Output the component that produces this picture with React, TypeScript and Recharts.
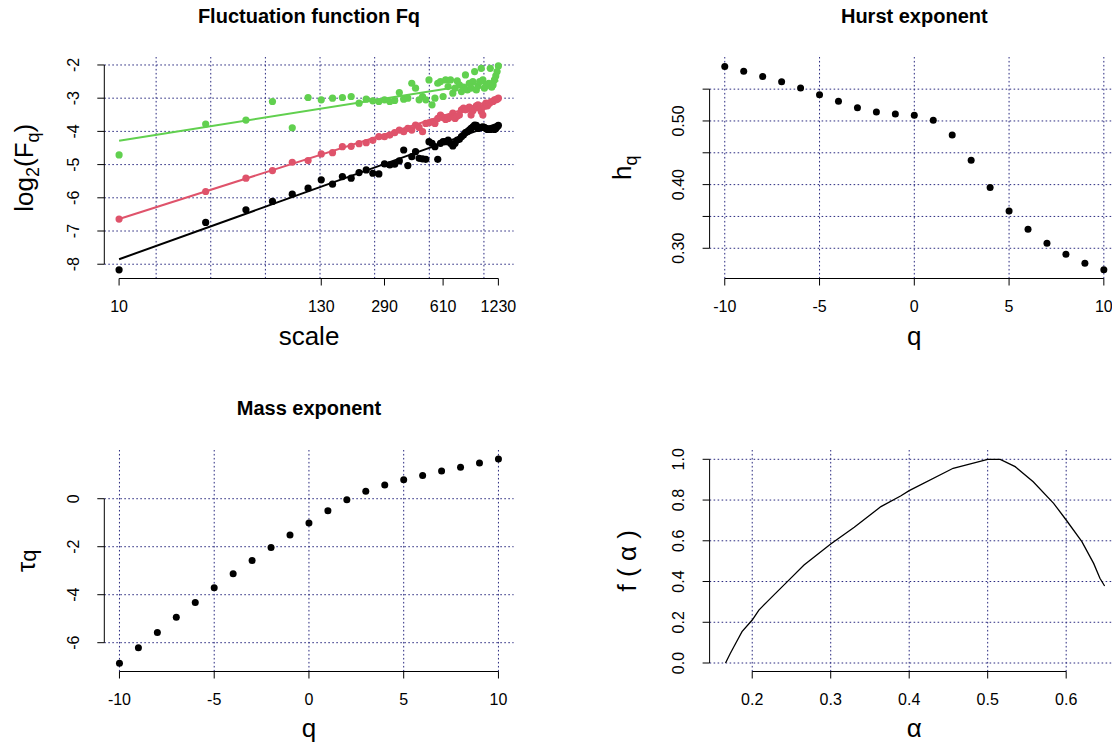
import React from "react";
import { ScatterChart, Scatter, XAxis, YAxis, ReferenceLine } from "recharts";

const FONT = '"Liberation Sans", Arial, Helvetica, sans-serif';
const GRID_COLOR = "#2b2b80";
const GRID_DASH = "1.6 2.4";
const YW = 60;
const XH = 40;

// fluctuation function (log2 Fq against scale), three q values
const scales = [
  10, 30, 50, 70, 90, 110, 130, 150, 170, 190, 210, 230, 250, 270, 290, 310,
  330, 350, 370, 390, 410, 430, 450, 470, 490, 510, 530, 550, 570, 590, 610,
  630, 650, 670, 690, 710, 730, 750, 770, 790, 810, 830, 850, 870, 890, 910,
  930, 950, 970, 990, 1010, 1030, 1050, 1070, 1090, 1110, 1130, 1150, 1170,
  1190, 1210, 1230,
];
const fqBlack = [
  -8.17, -6.74, -6.36, -6.11, -5.89, -5.71, -5.46, -5.59, -5.36, -5.41,
  -5.24, -5.16, -5.26, -5.28, -4.98, -5.01, -4.99, -4.89, -4.56, -5.03,
  -4.76, -4.61, -4.81, -4.83, -4.84, -4.31, -4.36, -4.46, -4.84, -4.36,
  -4.31, -4.31, -4.26, -4.36, -4.44, -4.36, -4.26, -4.24, -4.16, -4.11,
  -4.04, -4.01, -3.96, -3.91, -3.86, -3.81, -3.82, -3.91, -3.89, -3.88,
  -3.86, -3.88, -3.91, -3.94, -3.92, -3.94, -3.92, -3.91, -3.94, -3.91,
  -3.86, -3.82,
];
const fqRed = [
  -6.64, -5.81, -5.41, -5.18, -4.93, -4.88, -4.68, -4.64, -4.46, -4.45,
  -4.37, -4.34, -4.27, -4.16, -4.16, -4.11, -4.04, -3.96, -4.01, -3.91,
  -3.96, -3.81, -3.88, -4.01, -3.76, -3.74, -3.71, -3.76, -3.61, -3.51,
  -3.58, -3.64, -3.61, -3.56, -3.45, -3.61, -3.54, -3.51, -3.35, -3.3,
  -3.35, -3.33, -3.27, -3.51, -3.38, -3.3, -3.23, -3.2, -3.3, -3.4,
  -3.51, -3.25, -3.15, -3.23, -3.17, -3.13, -3.1, -3.1, -3.05, -3.05,
  -3.03, -3.0,
];
const fqGreen = [
  -4.71, -3.78, -3.66, -3.1, -3.89, -2.98, -3.05, -3.0, -2.98, -2.95,
  -3.15, -3.03, -3.08, -3.1, -3.05, -3.1, -3.07, -2.83, -3.03, -3.0,
  -2.55, -2.7, -3.05, -2.95, -3.05, -2.45, -3.2, -3.0, -2.55, -2.5,
  -2.95, -2.45, -2.65, -2.45, -2.85, -2.7, -2.48, -2.6, -2.8, -2.67,
  -2.3, -2.75, -2.55, -2.7, -2.5, -2.2, -2.75, -2.63, -2.5, -2.1,
  -2.45, -2.7, -2.63, -2.6, -2.55, -2.1, -2.67, -2.6, -2.45, -2.33,
  -2.2, -2.03,
];
// fitted regression lines (ends)
const fitScales = [10, 1230];
const fitBlack = [-7.85, -3.75];
const fitRed = [-6.64, -3.0];
const fitGreen = [-4.28, -2.47];
const fqTicksX = [10, 130, 290, 610, 1230];
const fqGridX = [16, 32, 64, 128, 256, 512, 1024];
const fqTicksY = [-8, -7, -6, -5, -4, -3, -2];

// Hurst exponent and mass exponent
const qValues = [-10, -9, -8, -7, -6, -5, -4, -3, -2, -1, 0, 1, 2, 3, 4, 5, 6, 7, 8, 9, 10];
const hurst = [
  0.5856, 0.5783, 0.57, 0.5616, 0.5517, 0.5413, 0.5308, 0.5209, 0.5141, 0.511,
  0.5089, 0.501, 0.4781, 0.4384, 0.3956, 0.3585, 0.3298, 0.3078, 0.2906,
  0.2765, 0.2661,
];
const tau = [
  -6.86, -6.21, -5.57, -4.94, -4.32, -3.71, -3.13, -2.57, -2.03, -1.51, -1.01,
  -0.5, -0.04, 0.31, 0.57, 0.79, 0.97, 1.15, 1.31, 1.49, 1.65,
];
const qTicks = [-10, -5, 0, 5, 10];
const hurstTicksY = [0.3, 0.35, 0.4, 0.45, 0.5, 0.55];
const hurstLabelsY = [0.3, 0.4, 0.5];
const tauTicksY = [-6, -4, -2, 0];

// singularity spectrum
const alpha = [
  0.166, 0.172, 0.179, 0.187, 0.2, 0.2085, 0.2255, 0.247, 0.266, 0.3, 0.33,
  0.364, 0.389, 0.4, 0.456, 0.5, 0.516, 0.535, 0.558, 0.584, 0.6, 0.62, 0.635,
  0.643, 0.649,
];
const fAlpha = [
  0.0, 0.047, 0.097, 0.154, 0.211, 0.26, 0.326, 0.408, 0.481, 0.584, 0.666,
  0.768, 0.82, 0.846, 0.956, 1.0, 1.0, 0.964, 0.89, 0.784, 0.702, 0.596, 0.489,
  0.416, 0.378,
];
const alphaTicks = [0.2, 0.3, 0.4, 0.5, 0.6];
const fTicks = [0, 0.2, 0.4, 0.6, 0.8, 1.0];

type PanelCfg = {
  left: number;
  top: number;
  width: number;
  height: number;
  px: number;
  py: number;
  pw: number;
  ph: number;
  xDomain: [number, number];
  yDomain: [number, number];
  xLog?: boolean;
  xTicks: number[];
  yTicks: number[];
  xGrid: number[];
  yGrid: number[];
  xSpan: [number, number];
  ySpan: [number, number];
  xFmt: (v: number) => string;
  yFmt: (v: number) => string;
};

const dot = (color: string, r = 3.6) => (p: any) =>
  <circle cx={p.cx} cy={p.cy} r={r} fill={color} />;
const noDot = () => <g />;

const pts = (xs: number[], ys: number[]) => xs.map((x, i) => ({ x, y: ys[i] }));

const xTick = (fmt: (v: number) => string) => (p: any) => (
  <text x={p.x} y={p.y} textAnchor="middle" dominantBaseline="central"
    fontSize={16} fontFamily={FONT} fill="#000">
    {fmt(p.payload.value)}
  </text>
);
const yTick = (fmt: (v: number) => string) => (p: any) => (
  <text x={p.x} y={p.y} transform={`rotate(-90 ${p.x} ${p.y})`}
    textAnchor="middle" dominantBaseline="central"
    fontSize={16} fontFamily={FONT} fill="#000">
    {fmt(p.payload.value)}
  </text>
);

function Panel({ cfg, children }: { cfg: PanelCfg; children: React.ReactNode }) {
  const margin = {
    top: cfg.py - cfg.top,
    left: cfg.px - cfg.left - YW,
    right: cfg.left + cfg.width - (cfg.px + cfg.pw),
    bottom: cfg.top + cfg.height - (cfg.py + cfg.ph) - XH,
  };
  const grid = [
    ...cfg.xGrid.map((v) => (
      <ReferenceLine key={"gx" + v} x={v} stroke={GRID_COLOR} strokeDasharray={GRID_DASH} />
    )),
    ...cfg.yGrid.map((v) => (
      <ReferenceLine key={"gy" + v} y={v} stroke={GRID_COLOR} strokeDasharray={GRID_DASH} />
    )),
  ];
  const axes = [
    <ReferenceLine key="ax" ifOverflow="visible" stroke="#000"
      segment={[{ x: cfg.xSpan[0], y: cfg.yDomain[0] }, { x: cfg.xSpan[1], y: cfg.yDomain[0] }]} />,
    <ReferenceLine key="ay" ifOverflow="visible" stroke="#000"
      segment={[{ x: cfg.xDomain[0], y: cfg.ySpan[0] }, { x: cfg.xDomain[0], y: cfg.ySpan[1] }]} />,
  ];
  return (
    <div style={{ position: "absolute", left: cfg.left, top: cfg.top }}>
      <ScatterChart width={cfg.width} height={cfg.height} margin={margin}>
        <XAxis dataKey="x" type="number" scale={cfg.xLog ? "log" : "linear"}
          domain={cfg.xDomain} allowDataOverflow ticks={cfg.xTicks} interval={0}
          height={XH} tickSize={7} tickMargin={20.5} axisLine={false}
          tickLine={{ stroke: "#000" }} tick={xTick(cfg.xFmt)} />
        <YAxis dataKey="y" type="number" domain={cfg.yDomain} allowDataOverflow
          ticks={cfg.yTicks} interval={0} width={YW} tickSize={7} tickMargin={24}
          axisLine={false} tickLine={{ stroke: "#000" }} tick={yTick(cfg.yFmt)} />
        {grid}
        {axes}
        {children}
      </ScatterChart>
    </div>
  );
}

const fq: PanelCfg = {
  left: 0, top: 0, width: 556, height: 392,
  px: 104.3, py: 57, pw: 409.3, ph: 221.5,
  xDomain: [8.29, 1492], yDomain: [-8.43, -1.76], xLog: true,
  xTicks: fqTicksX, yTicks: fqTicksY, xGrid: fqGridX, yGrid: fqTicksY,
  xSpan: [10, 1230], ySpan: [-8, -2],
  xFmt: (v) => String(v), yFmt: (v) => String(v),
};
const hq: PanelCfg = {
  left: 556, top: 0, width: 600, height: 392,
  px: 709.6, py: 57, pw: 409.4, ph: 221.5,
  xDomain: [-10.8, 10.8], yDomain: [0.2525, 0.6005],
  xTicks: qTicks, yTicks: hurstTicksY, xGrid: qTicks, yGrid: hurstTicksY,
  xSpan: [-10, 10], ySpan: [0.3, 0.55],
  xFmt: (v) => String(v),
  yFmt: (v) => (hurstLabelsY.includes(v) ? v.toFixed(2) : ""),
};
const tq: PanelCfg = {
  left: 0, top: 392, width: 556, height: 357,
  px: 104.3, py: 450, pw: 409.3, ph: 221.5,
  xDomain: [-10.8, 10.8], yDomain: [-7.2, 2.03],
  xTicks: qTicks, yTicks: tauTicksY, xGrid: qTicks, yGrid: tauTicksY,
  xSpan: [-10, 10], ySpan: [-6, 0],
  xFmt: (v) => String(v), yFmt: (v) => String(v),
};
const fa: PanelCfg = {
  left: 556, top: 392, width: 600, height: 357,
  px: 709.6, py: 450, pw: 409.4, ph: 221.5,
  xDomain: [0.1457, 0.6673], yDomain: [-0.0417, 1.0457],
  xTicks: alphaTicks, yTicks: fTicks, xGrid: alphaTicks, yGrid: fTicks,
  xSpan: [0.2, 0.6], ySpan: [0, 1],
  xFmt: (v) => v.toFixed(1), yFmt: (v) => v.toFixed(1),
};

const title = { fontFamily: FONT, fontSize: 20, fontWeight: 700, fill: "#000" };
const axLab = { fontFamily: FONT, fontSize: 26, fill: "#000" };

export default function App() {
  return (
    <div style={{ position: "absolute", left: 0, top: 0, width: 1112, height: 749, overflow: "hidden", background: "#fff" }}>
      <Panel cfg={fq}>
        <Scatter data={pts(scales, fqGreen)} isAnimationActive={false} shape={dot("#61D04F")} />
        <Scatter data={pts(scales, fqRed)} isAnimationActive={false} shape={dot("#DF536B")} />
        <Scatter data={pts(scales, fqBlack)} isAnimationActive={false} shape={dot("#000")} />
        <Scatter data={pts(fitScales, fitGreen)} isAnimationActive={false} shape={noDot}
          line={{ stroke: "#61D04F", strokeWidth: 2 }} />
        <Scatter data={pts(fitScales, fitRed)} isAnimationActive={false} shape={noDot}
          line={{ stroke: "#DF536B", strokeWidth: 2 }} />
        <Scatter data={pts(fitScales, fitBlack)} isAnimationActive={false} shape={noDot}
          line={{ stroke: "#000", strokeWidth: 2 }} />
      </Panel>
      <Panel cfg={hq}>
        <Scatter data={pts(qValues, hurst)} isAnimationActive={false} shape={dot("#000", 3.5)} />
      </Panel>
      <Panel cfg={tq}>
        <Scatter data={pts(qValues, tau)} isAnimationActive={false} shape={dot("#000", 3.5)} />
      </Panel>
      <Panel cfg={fa}>
        <Scatter data={pts(alpha, fAlpha)} isAnimationActive={false} shape={noDot}
          line={{ stroke: "#000", strokeWidth: 1.3 }} />
      </Panel>
      <svg width={1112} height={749} style={{ position: "absolute", left: 0, top: 0, pointerEvents: "none" }}>
        <text x={309} y={16} textAnchor="middle" dominantBaseline="central" {...title}>Fluctuation function Fq</text>
        <text x={914.3} y={16} textAnchor="middle" dominantBaseline="central" {...title}>Hurst exponent</text>
        <text x={309} y={408} textAnchor="middle" dominantBaseline="central" {...title}>Mass exponent</text>

        <text x={309} y={345} textAnchor="middle" {...axLab}>scale</text>
        <text x={914.3} y={345} textAnchor="middle" {...axLab}>q</text>
        <text x={309} y={737} textAnchor="middle" {...axLab}>q</text>
        <text x={914.3} y={737} textAnchor="middle" {...axLab}>α</text>

        <text x={32.5} y={167.75} transform="rotate(-90 32.5 167.75)" textAnchor="middle" {...axLab}>
          log<tspan fontSize={18} dy={6}>2</tspan><tspan dy={-6}>(F</tspan>
          <tspan fontSize={18} dy={6}>q</tspan><tspan dy={-6}>)</tspan>
        </text>
        <text x={631} y={167.75} transform="rotate(-90 631 167.75)" textAnchor="middle" {...axLab}>
          h<tspan fontSize={18} dy={6}>q</tspan>
        </text>
        <text x={35} y={560.75} transform="rotate(-90 35 560.75)" textAnchor="middle" {...axLab}>
          τ<tspan fontSize={22} dy={1}>q</tspan>
        </text>
        <text x={636} y={560.75} transform="rotate(-90 636 560.75)" textAnchor="middle" {...axLab}>
          f ( α )
        </text>
      </svg>
    </div>
  );
}
